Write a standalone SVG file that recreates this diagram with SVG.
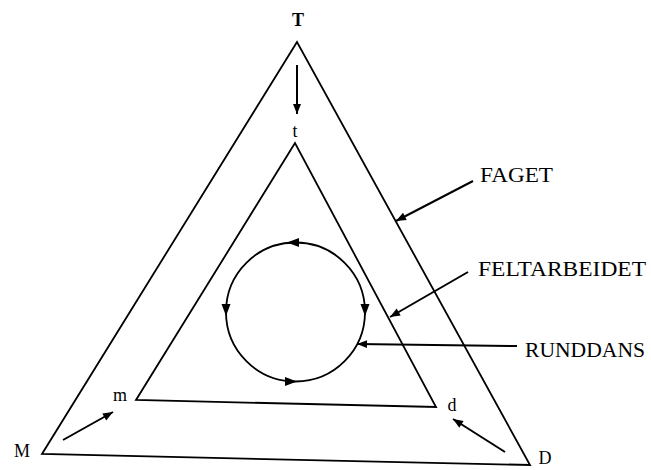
<svg xmlns="http://www.w3.org/2000/svg" width="651" height="470" viewBox="0 0 651 470">
<style>
.ln{fill:none;stroke:#000;stroke-width:1.8}
.ar{fill:none;stroke:#000;stroke-width:2}
.lbl{font-family:"Liberation Serif","Times New Roman",serif;font-size:18px;fill:#000}
.big{font-family:"Liberation Serif","Times New Roman",serif;font-size:20px;fill:#000}
</style>
<defs>
<marker id="ah" viewBox="0 0 10 10" refX="10" refY="5" markerWidth="6" markerHeight="5" orient="auto" markerUnits="strokeWidth">
<path d="M0,1 L10,5 L0,9 Z" fill="#000"/>
</marker>
<path id="tri" d="M-6,-4.5 L6,0 L-6,4.5 Z" fill="#000"/>
</defs>
<rect width="651" height="470" fill="#fff"/>
<g id="outer"><polygon class="ln" points="297,42 42,454 530,465"/></g>
<g id="inner"><polygon class="ln" points="295,143 136,400 436,407"/></g>
<g id="circle">
<circle class="ln" cx="295.5" cy="312" r="69.5"/>
<use href="#tri" transform="translate(293,242.5) rotate(180)"/>
<use href="#tri" transform="translate(226,310) rotate(90)"/>
<use href="#tri" transform="translate(291,381.5)"/>
<use href="#tri" transform="translate(365,310) rotate(90)"/>
</g>
<g id="labels">
<text class="lbl" x="298" y="26" text-anchor="middle" font-weight="bold" font-size="17">T</text>
<text class="lbl" x="295" y="137" text-anchor="middle" font-size="17">t</text>
<text class="lbl" x="120" y="401" text-anchor="middle">m</text>
<text class="lbl" x="452" y="411" text-anchor="middle">d</text>
<text class="lbl" x="22" y="457" text-anchor="middle">M</text>
<text class="lbl" x="545" y="464" text-anchor="middle">D</text>
<text class="big" x="480" y="182" textLength="73" lengthAdjust="spacingAndGlyphs">FAGET</text>
<text class="big" x="478" y="276" textLength="168" lengthAdjust="spacingAndGlyphs">FELTARBEIDET</text>
<text class="big" x="525" y="357" textLength="120" lengthAdjust="spacingAndGlyphs">RUNDDANS</text>
</g>
<g id="connectors">
<line class="ar" x1="297" y1="65" x2="297" y2="114" marker-end="url(#ah)"/>
<line class="ar" x1="63" y1="440" x2="113" y2="412" marker-end="url(#ah)"/>
<line class="ar" x1="505" y1="452" x2="453" y2="419" marker-end="url(#ah)"/>
<line class="ar" x1="473" y1="181" x2="396" y2="221" marker-end="url(#ah)"/>
<line class="ar" x1="468" y1="272" x2="390" y2="317" marker-end="url(#ah)"/>
<line class="ar" x1="517" y1="346" x2="357" y2="344" marker-end="url(#ah)"/>
</g>
</svg>
